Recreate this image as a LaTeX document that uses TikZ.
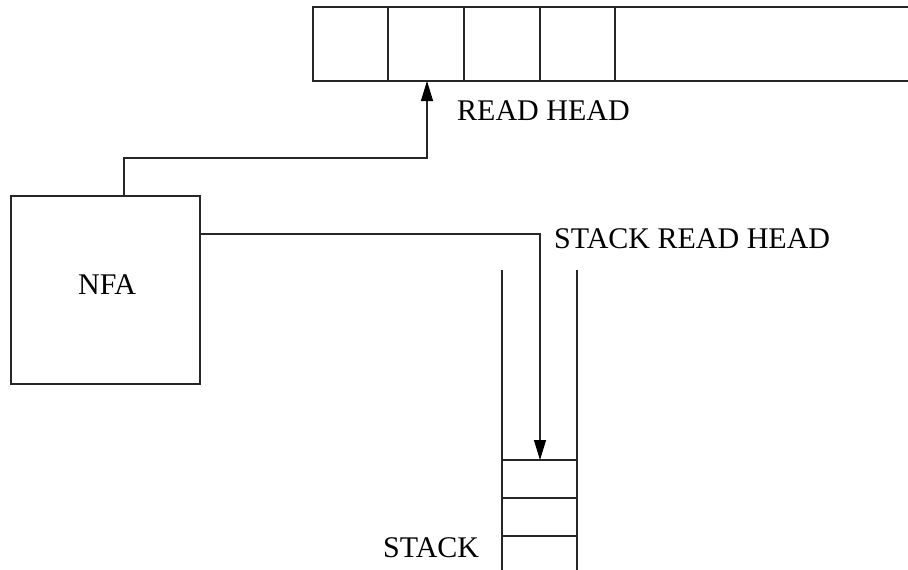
\documentclass[tikz,border=0pt]{standalone}
\usepackage{fontspec}
\setmainfont{Liberation Serif}
\usetikzlibrary{arrows.meta}
\begin{document}
\begin{tikzpicture}[x=1pt,y=-1pt,
  wire/.style={line width=1.2pt,draw=black!85},
  lbl/.style={inner sep=0pt,anchor=base west,font=\fontsize{30}{30}\selectfont},
  head/.style={-{Triangle[length=20pt,width=12pt,fill=black,color=black]}}]
\useasboundingbox (0,0) rectangle (908,570);
% tape
\draw[wire] (908,7) -- (313,7) -- (313,81) -- (908,81);
\foreach \x in {388,464,540,615} \draw[wire] (\x,7) -- (\x,81);
\coordinate (tapecell) at (427,81);
% NFA
\node[wire,draw,minimum width=189pt,minimum height=188pt,inner sep=0pt] (nfa) at (105.5,290) {};
\node[lbl] (nfalbl) at (78,294) {NFA};
% stack
\draw[wire] (502,270) -- (502,570);
\draw[wire] (577,270) -- (577,570);
\coordinate (stacktop) at (540,460);
\draw[wire] (502,460) -- (577,460);
\draw[wire] (502,498) -- (577,498);
\draw[wire] (502,536) -- (577,536);
% labels
\node[lbl] (rh) at (457,120) {READ HEAD};
\node[lbl] (srh) at (554,248) {STACK READ HEAD};
\node[lbl] (st) at (383,557) {STACK};
% connectors
\draw[wire,head] (nfa.north -| 124,0) -- (124,158) -- (427,158) -- (tapecell);
\draw[wire,head] (nfa.east |- 0,234) -- (540,234) -- (stacktop);
\end{tikzpicture}
\end{document}
